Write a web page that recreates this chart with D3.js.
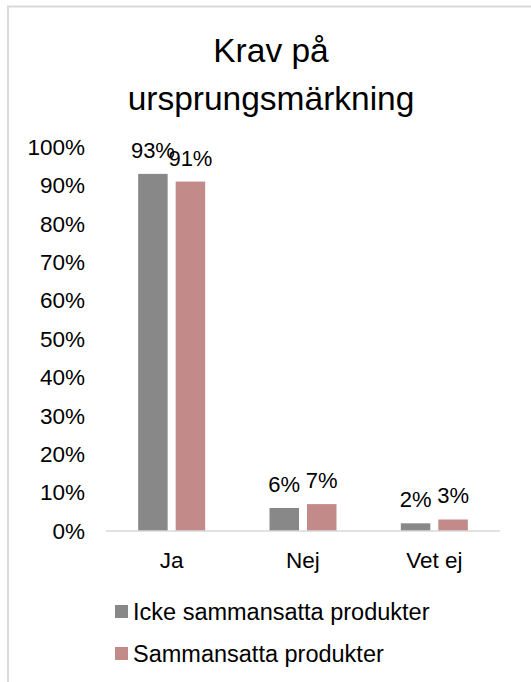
<!DOCTYPE html>
<html>
<head>
<meta charset="utf-8">
<script src="https://cdn.jsdelivr.net/npm/d3@7"></script>
<style>
  body { margin: 0; background: #fff; }
  text { font-family: "Liberation Sans", Arial, sans-serif; fill: #000; }
</style>
</head>
<body>
<div id="canvas"></div>
<script>
"use strict"

/* data */
let categories = ["Ja", "Nej", "Vet ej"];
let seriesNames = ["Icke sammansatta produkter", "Sammansatta produkter"];
let icke = [0.93, 0.06, 0.02];
let sammansatta = [0.91, 0.07, 0.03];
let tickValues = [0, 0.1, 0.2, 0.3, 0.4, 0.5, 0.6, 0.7, 0.8, 0.9, 1.0];
let colors = ["#888888", "#c38a8a"];

let drawing = d3.select("#canvas")
    .append("svg")
    .attr("width", 531)
    .attr("height", 682);

/* chart frame: only top and left edges show */
drawing.append("path")
    .attr("d", "M8,682 V6.5 H531")
    .attr("fill", "none")
    .attr("stroke", "#d9d9d9")
    .attr("stroke-width", 2);

/* title */
let title = drawing.append("text")
    .attr("text-anchor", "middle")
    .attr("font-size", 33.5);
title.append("tspan").attr("x", 271).attr("y", 62).text("Krav på");
title.append("tspan").attr("x", 271).attr("y", 110).text("ursprungsmärkning");

/* scales */
let x = d3.scaleBand().domain(categories).range([106, 500]);
let y = d3.scaleLinear().domain([0, 1]).range([531, 147]);
let barW = 29.5, gap = 8;

/* y tick labels (no axis line) */
let yAxis = drawing.append("g")
    .attr("transform", "translate(85,0)")
    .call(d3.axisLeft(y).tickValues(tickValues).tickFormat(d3.format(".0%")).tickSize(0).tickPadding(0));
yAxis.select(".domain").remove();
yAxis.selectAll("text")
    .attr("font-size", 22.5)
    .attr("font-family", "Liberation Sans, Arial, sans-serif")
    .attr("fill", "#000");

/* bars */
let series = [icke, sammansatta];
series.forEach(function (vals, s) {
  let offset = s === 0 ? -(barW + gap / 2) : gap / 2;
  drawing.append("g").selectAll("rect")
    .data(vals)
    .join("rect")
    .attr("x", (d, i) => x(categories[i]) + x.bandwidth() / 2 + offset)
    .attr("y", d => y(d))
    .attr("width", barW)
    .attr("height", d => y(0) - y(d))
    .attr("fill", colors[s]);

  drawing.append("g").selectAll("text")
    .data(vals)
    .join("text")
    .attr("x", (d, i) => x(categories[i]) + x.bandwidth() / 2 + offset + barW / 2)
    .attr("y", d => y(d) - 16)
    .attr("text-anchor", "middle")
    .attr("font-size", 22)
    .text(d => d3.format(".0%")(d));
});

/* baseline */
drawing.append("line")
    .attr("x1", 106).attr("x2", 500)
    .attr("y1", y(0)).attr("y2", y(0))
    .attr("stroke", "#d9d9d9")
    .attr("stroke-width", 1.5);

/* category labels */
drawing.append("g").selectAll("text")
    .data(categories)
    .join("text")
    .attr("x", d => x(d) + x.bandwidth() / 2)
    .attr("y", 568)
    .attr("text-anchor", "middle")
    .attr("font-size", 22.5)
    .text(d => d);

/* legend */
let legend = drawing.append("g").selectAll("g")
    .data(seriesNames)
    .join("g")
    .attr("transform", (d, i) => "translate(115," + (605 + i * 42) + ")");
legend.append("rect")
    .attr("width", 13).attr("height", 13)
    .attr("fill", (d, i) => colors[i]);
legend.append("text")
    .attr("x", 18).attr("y", 14.5)
    .attr("font-size", 23.5)
    .text(d => d);
</script>
</body>
</html>
